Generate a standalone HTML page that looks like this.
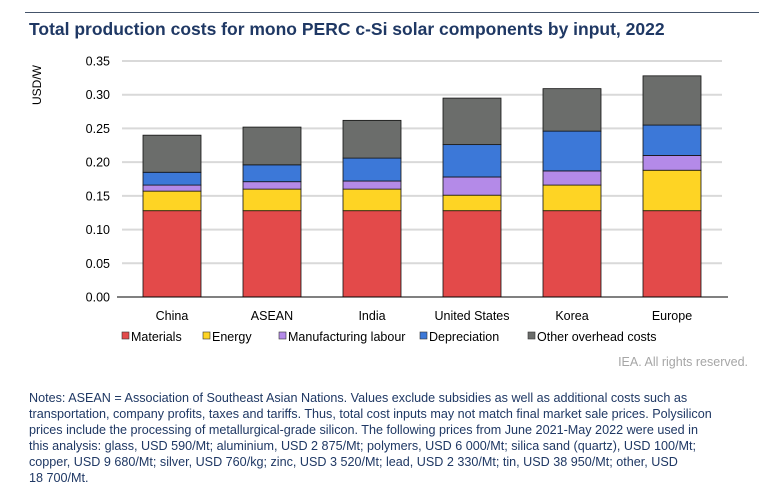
<!DOCTYPE html>
<html><head><meta charset="utf-8"><style>
body{margin:0;background:#fff;font-family:"Liberation Sans",Arial,sans-serif;}
#wrap{position:relative;width:759px;height:487px;overflow:hidden;}
.notes div{position:absolute;left:29px;font-size:12.6px;color:#1f3864;white-space:nowrap;}
</style></head><body>
<div id="wrap">
<div style="position:absolute;left:25px;top:12px;width:734px;height:1px;background:#44546a"></div>
<div style="position:absolute;left:29px;top:19px;font-size:17.5px;font-weight:bold;color:#1f3864;white-space:nowrap">Total production costs for mono PERC c-Si solar components by input, 2022</div>
<svg id="chart" width="759" height="380" style="position:absolute;left:0;top:0"></svg>
<div style="position:absolute;right:11px;top:355px;font-size:12.5px;color:#a6a6a6">IEA. All rights reserved.</div>
<div class="notes">
<div style="top:391px">Notes: ASEAN = Association of Southeast Asian Nations. Values exclude subsidies as well as additional costs such as</div>
<div style="top:407px">transportation, company profits, taxes and tariffs. Thus, total cost inputs may not match final market sale prices. Polysilicon</div>
<div style="top:423px">prices include the processing of metallurgical-grade silicon. The following prices from June 2021-May 2022 were used in</div>
<div style="top:439px">this analysis: glass, USD 590/Mt; aluminium, USD 2 875/Mt; polymers, USD 6 000/Mt; silica sand (quartz), USD 100/Mt;</div>
<div style="top:455px">copper, USD 9 680/Mt; silver, USD 760/kg; zinc, USD 3 520/Mt; lead, USD 2 330/Mt; tin, USD 38 950/Mt; other, USD</div>
<div style="top:471px">18 700/Mt.</div>
</div>
</div>
<script>
const categories=["China","ASEAN","India","United States","Korea","Europe"];
const seriesNames=["Materials","Energy","Manufacturing labour","Depreciation","Other overhead costs"];
const materials=[0.128,0.128,0.128,0.128,0.128,0.128];
const energy=[0.029,0.032,0.032,0.023,0.038,0.060];
const labour=[0.009,0.011,0.012,0.027,0.021,0.022];
const depreciation=[0.019,0.025,0.034,0.048,0.059,0.045];
const overhead=[0.055,0.056,0.056,0.069,0.063,0.073];
const yTicks=[0,0.05,0.10,0.15,0.20,0.25,0.30,0.35];
const colors=["#e34a4a","#fed424","#b48ae8","#3c78d8","#6b6d6b"];
const series=[materials,energy,labour,depreciation,overhead];
const NS="http://www.w3.org/2000/svg";
const svg=document.getElementById("chart");
const x0=122,x1=722,y0=297,y1=61,yMax=0.35;
const y=v=>y0-(v/yMax)*(y0-y1);
const band=(x1-x0)/categories.length;
const xc=i=>x0+band*(i+0.5);
const bw=58;
function mk(t,a){const e=document.createElementNS(NS,t);for(const k in a)e.setAttribute(k,a[k]);svg.appendChild(e);return e;}
yTicks.forEach(t=>{
  if(t>0){const g=mk("line",{x1:x0,x2:x1,y1:y(t),y2:y(t),stroke:"#d9d9d9","stroke-width":2});
  
  }
  const l=mk("text",{x:110,y:y(t)+4.5,"text-anchor":"end","font-size":12.5,fill:"#000","font-family":"Liberation Sans, sans-serif"});
  l.textContent=t.toFixed(2);
  
  
});
const yt=mk("text",{transform:"translate(41,85) rotate(-90)","text-anchor":"middle","font-size":12,"font-family":"Liberation Sans, sans-serif"});
yt.textContent="USD/W";


categories.forEach((c,i)=>{
  let acc=0;
  series.forEach((s,k)=>{
    const r=mk("rect",{x:xc(i)-bw/2,y:y(acc+s[i]),width:bw,height:y(acc)-y(acc+s[i]),fill:colors[k],stroke:"#111","stroke-width":0.8});
    
    
    acc+=s[i];
  });
  const t=mk("text",{x:xc(i),y:320,"text-anchor":"middle","font-size":12.5,"font-family":"Liberation Sans, sans-serif"});
  t.textContent=c;
  
  
});
const ax=mk("line",{x1:117,x2:x1+6,y1:y0,y2:y0,stroke:"#000","stroke-width":1});


const lx=[122,203,279,420,528];
seriesNames.forEach((n,k)=>{
  const r=mk("rect",{x:lx[k],y:332,width:7,height:7,fill:colors[k],stroke:"#333","stroke-width":0.6});
  
  
  const t=mk("text",{x:lx[k]+9,y:341,"font-size":12.5,"font-family":"Liberation Sans, sans-serif"});
  t.textContent=n;
  
  
});
</script>
</body></html>
